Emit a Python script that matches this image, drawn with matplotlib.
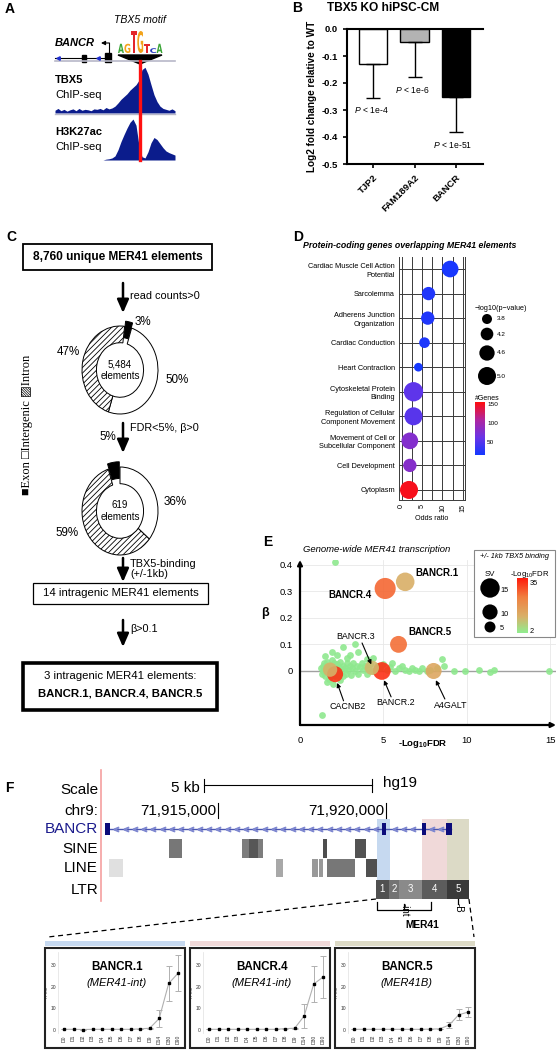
import numpy as np
import matplotlib
matplotlib.use('Agg')
import matplotlib.pyplot as plt
from matplotlib.patches import Rectangle, Polygon, PathPatch
from matplotlib.textpath import TextPath
from matplotlib.font_manager import FontProperties
from matplotlib.transforms import Affine2D
from matplotlib.colors import LinearSegmentedColormap, Normalize
from matplotlib.cm import ScalarMappable

W, H = 559, 1050

# ---------------- data ----------------
# A: motif logo + ChIP-seq signal (relative to peak)
motif_letters = ['A', 'G', 'T', 'G', 'T', 'C', 'A']
motif_heights = [0.42, 0.42, 1.0, 1.0, 0.4, 0.22, 0.42]
motif_colors = ['#3aa537', '#f2a31b', '#e3262b', '#f2a31b', '#e3262b', '#2a3fbf', '#3aa537']
tbx5_chip = [0.06, 0.10, 0.05, 0.08, 0.04, 0.07, 0.09, 0.05, 0.10, 0.06, 0.08, 0.07, 0.05, 0.09,
             0.08, 0.10, 0.07, 0.12, 0.09, 0.11, 0.15, 0.22, 0.30, 0.36, 0.42, 0.50, 0.56, 0.62,
             0.72, 0.95, 1.00, 0.85, 0.62, 0.40, 0.25, 0.15, 0.10, 0.08, 0.06, 0.09, 0.05]
h3k27ac_chip = [0, 0, 0, 0, 0, 0, 0, 0, 0, 0, 0, 0, 0, 0, 0, 0, 0, 0.02, 0.03, 0.05,
                0.10, 0.25, 0.45, 0.62, 0.78, 0.92, 1.00, 0.85, 0.35, 0.08, 0.05, 0.20, 0.42,
                0.55, 0.50, 0.40, 0.30, 0.22, 0.18, 0.15, 0.12]

# B: TBX5 KO
b_genes = ['TJP2', 'FAM189A2', 'BANCR']
b_lfc = [-0.13, -0.047, -0.25]
b_err = [0.125, 0.131, 0.132]
b_pvals = ['< 1e-4', '< 1e-6', '< 1e-51']
b_colors = ['white', '#b3b3b3', 'black']

# C: flow
donut_labels = ['Exon', 'Intergenic', 'Intron']
donut1_pct = [3, 50, 47]
donut1_n = '5,484'
donut2_pct = [5, 36, 59]
donut2_n = '619'
flow_steps = ['read counts>0', 'FDR<5%, β>0', 'TBX5-binding\n(+/-1kb)', 'β>0.1']

# D: enrichment
d_terms = ['Cardiac Muscle Cell Action\nPotential', 'Sarcolemma', 'Adherens Junction\nOrganization',
           'Cardiac Conduction', 'Heart Contraction', 'Cytoskeletal Protein\nBinding',
           'Regulation of Cellular\nComponent Movement', 'Movement of Cell or\nSubcellular Component',
           'Cell Development', 'Cytoplasm']
d_odds = [11.9, 6.6, 6.4, 5.6, 4.1, 2.9, 2.9, 2.0, 2.0, 1.8]
d_logp = [4.8, 4.3, 4.3, 3.9, 3.6, 5.2, 5.0, 4.8, 4.3, 5.0]
d_genes = [18, 22, 22, 20, 16, 55, 52, 78, 80, 150]

# E: genome-wide MER41
e_bg_x = [1.25, 1.3, 1.35, 1.4, 1.45, 1.5, 1.55, 1.6, 1.65, 1.7, 1.75, 1.8, 1.85, 1.9, 1.95,
          2.0, 2.05, 2.1, 2.15, 2.2, 2.3, 2.35, 2.4, 2.5, 2.55, 2.6, 2.7, 2.75, 2.8, 2.9,
          3.0, 3.05, 3.1, 3.2, 3.3, 3.4, 3.5, 3.6, 3.7, 3.8, 3.9, 4.0, 4.1, 4.2, 4.4, 4.6,
          4.8, 5.0, 5.2, 5.4, 5.5, 5.7, 5.9, 6.1, 6.3, 6.5, 6.7, 6.9, 7.1, 7.3, 7.6, 7.8,
          8.2, 8.6, 1.3, 2.1, 1.9, 2.8, 3.3, 3.5, 2.6, 3.0, 4.0, 4.4, 1.6, 2.0, 2.4, 8.5,
          9.2, 9.9, 10.7, 11.4, 11.6, 14.9, 1.5, 2.2]
e_bg_y = [0.01, -0.01, 0.02, 0.0, 0.03, -0.02, 0.01, 0.035, -0.005, 0.015, -0.03, 0.02, 0.0,
          0.04, -0.015, 0.01, 0.03, -0.02, 0.005, 0.025, -0.01, 0.015, 0.035, 0.0, -0.02, 0.02,
          0.01, -0.01, 0.03, 0.005, 0.02, -0.015, 0.01, 0.03, 0.0, 0.02, -0.01, 0.015, 0.03,
          0.005, 0.02, -0.01, 0.01, 0.025, 0.0, 0.02, 0.01, 0.025, 0.005, 0.015, 0.03, 0.0,
          0.01, 0.02, 0.005, 0.0, 0.01, 0.005, 0.0, 0.01, 0.0, 0.005, 0.01, 0.02, -0.165, 0.41,
          0.07, 0.05, 0.1, 0.07, 0.09, 0.06, 0.045, 0.05, -0.04, -0.05, -0.035, 0.045, 0.0, 0.0,
          0.005, -0.005, 0.005, 0.0, 0.055, 0.06]
e_hit_names = ['BANCR.1', 'BANCR.4', 'BANCR.5', 'BANCR.2', 'BANCR.3', 'A4GALT', 'CACNB2', '']
e_hit_x = [6.3, 5.1, 5.9, 4.9, 4.3, 8.0, 2.1, 1.8]
e_hit_y = [0.335, 0.31, 0.10, 0.0, 0.012, 0.0, -0.012, 0.005]
e_hit_sv = [14, 17, 12, 13, 9, 11, 11, 9]
e_hit_fdr = [12, 28, 27, 35, 10, 14, 35, 11]

# F: UCSC tracks (hg19, chr9)
f_xlim = (71911490, 71925150)
f_ticks = [71915000, 71920000]
f_scale = (71914583, 5000)
bancr_span = (71911697, 71921934)
bancr_exons = [(71911637, 71911786), (71919880, 71920000), (71921071, 71921190), (71921786, 71921964)]
sine = [(71913540, 71913930, '#707070'), (71915710, 71916340, '#767676'),
        (71915930, 71916190, '#555555'), (71918120, 71918245, '#444444'),
        (71919080, 71919400, '#4a4a4a')]
line_el = [(71911756, 71912173, '#e0e0e0'), (71916726, 71916934, '#a8a8a8'),
           (71917797, 71917976, '#999999'), (71918006, 71918125, '#999999'),
           (71918244, 71919077, '#777777'), (71919405, 71919732, '#505050')]
ltr = [(71919702, 71920089, '#505050', '1'), (71920089, 71920387, '#737373', '2'),
       (71920387, 71921071, '#8a8a8a', '3'), (71921071, 71921815, '#5c5c5c', '4'),
       (71921815, 71922470, '#3a3a3a', '5')]
highlights = [(71919732, 71920119, '#c6d9f0'), (71921071, 71921815, '#f0d9d9'),
              (71921815, 71922470, '#dcdac6')]

rna_days = ['D0', 'D1', 'D2', 'D3', 'D4', 'D5', 'D6', 'D7', 'D8', 'D9', 'D14', 'D30', 'D90']
rna_names = ['BANCR.1', 'BANCR.4', 'BANCR.5']
rna_types = ['(MER41-int)', '(MER41-int)', '(MER41B)']
rna_mean = [[0.3, 0.3, 0.2, 0.3, 0.3, 0.3, 0.3, 0.3, 0.5, 0.8, 5.3, 21.5, 26.3],
            [0.3, 0.3, 0.3, 0.3, 0.3, 0.3, 0.3, 0.3, 0.6, 0.8, 6.5, 21.2, 24.5],
            [0.3, 0.3, 0.3, 0.3, 0.3, 0.3, 0.3, 0.3, 0.4, 0.5, 2.3, 7.0, 8.3]]
rna_sd = [[0, 0, 0, 0, 0, 0, 0, 0, 0.1, 0.2, 4.0, 8.0, 8.3],
          [0, 0, 0, 0, 0, 0, 0, 0, 0.1, 0.2, 5.5, 8.3, 9.6],
          [0, 0, 0, 0, 0, 0, 0, 0, 0.1, 0.1, 1.3, 2.5, 2.3]]

# ---------------- figure ----------------
plt.rcParams['font.family'] = ['Liberation Sans', 'DejaVu Sans']
plt.rcParams['mathtext.fontset'] = 'custom'
plt.rcParams['mathtext.rm'] = 'Liberation Sans'
plt.rcParams['mathtext.it'] = 'Liberation Sans:italic'
plt.rcParams['mathtext.bf'] = 'Liberation Sans:bold'
plt.rcParams['hatch.linewidth'] = 0.6

fig = plt.figure(figsize=(W / 100, H / 100), dpi=100)


def px_axes(x0, y0, x1, y1, z=1):
    return fig.add_axes([x0 / W, 1 - y1 / H, (x1 - x0) / W, (y1 - y0) / H], zorder=z)


ov = px_axes(0, 0, W, H, z=10)
ov.set_xlim(0, W)
ov.set_ylim(H, 0)
ov.axis('off')

for lab, x, y in [('A', 5, 9), ('B', 292, 8), ('C', 6, 237), ('D', 293, 237), ('E', 263, 542), ('F', 5, 788)]:
    ov.text(x, y, lab, fontsize=10, weight='bold', va='center')

# ---- A ----
ov.text(140, 20, 'TBX5 motif', fontsize=7.6, style='italic', ha='center', va='center')
ov.text(55, 43, 'BANCR', fontsize=8, weight='bold', style='italic', va='center')
fp = FontProperties(family='DejaVu Sans', weight='bold')
cw = (163 - 118) / len(motif_letters)
for i, (ch, h, c) in enumerate(zip(motif_letters, motif_heights, motif_colors)):
    tp = TextPath((0, 0), ch, size=1, prop=fp)
    ext = tp.get_extents()
    tr = (Affine2D().translate(-ext.x0, -ext.y0)
          .scale(cw * 0.92 / ext.width, -h * 22 / ext.height).translate(118 + i * cw, 53))
    ov.add_patch(PathPatch(tr.transform_path(tp), color=c, lw=0))
ov.add_patch(Polygon([(118, 55), (162, 55), (140, 64)], closed=True, color='black'))
ov.plot([55, 175], [61, 61], color='#b8b8c8', lw=1.2)
ov.plot([55, 110], [58, 58], color='black', lw=0.8)
ov.add_patch(Rectangle((82, 54.5), 4, 7, color='black'))
ov.add_patch(Rectangle((105, 53), 6, 9, color='black'))
ov.plot([58, 98], [58, 58], ls='none', marker='<', ms=2.5, color='#2030d0')
ov.plot([109, 109], [53, 43], color='black', lw=0.8)
ov.annotate('', xy=(101, 43), xytext=(109.4, 43),
            arrowprops=dict(arrowstyle='-|>', lw=0.8, color='black', mutation_scale=6, shrinkA=0, shrinkB=0))

for arr, (y0, y1), name in [(tbx5_chip, (65, 113), 'TBX5'), (h3k27ac_chip, (117, 160), 'H3K27ac')]:
    a = px_axes(55, y0, 175, y1)
    xs = np.arange(len(arr))
    a.fill_between(xs, 0, arr, color='#0b1c8c', lw=0)
    a.set_xlim(0, len(arr) - 1)
    a.set_ylim(0, 1.05)
    a.axis('off')
    ov.text(55, y0 + 15, name, fontsize=8, weight='bold', va='center')
    ov.text(55, y0 + 30, 'ChIP-seq', fontsize=8, va='center')
ov.plot([55, 175], [113.5, 113.5], color='#b8b8c8', lw=1.0)
ov.plot([140, 140], [61, 160], color='#ff1010', lw=2.4)

# ---- B ----
ov.text(383, 8, 'TBX5 KO hiPSC-CM', fontsize=8.6, weight='bold', ha='center', va='center')
axb = px_axes(347, 29, 483, 164)
xb = np.arange(len(b_genes))
axb.bar(xb, b_lfc, width=0.68, color=b_colors, edgecolor='black', lw=1)
axb.errorbar(xb, b_lfc, yerr=[b_err, [0] * len(b_err)], fmt='none', ecolor='black',
             elinewidth=1, capsize=5, capthick=1)
axb.set_xlim(-0.63, 2.65)
axb.set_ylim(-0.5, 0)
yt = [-0.5, -0.4, -0.3, -0.2, -0.1, 0.0]
axb.set_yticks(yt, [f'{v:.1f}' for v in yt], fontsize=6.8, weight='bold')
axb.set_xticks(xb, b_genes, rotation=45, ha='right', rotation_mode='anchor', fontsize=6.8, weight='bold')
axb.tick_params(length=3, width=1.2)
for s in ['left', 'top', 'bottom']:
    axb.spines[s].set_linewidth(1.5)
axb.spines['right'].set_visible(False)
axb.set_ylabel('Log2 fold change relative to WT', fontsize=7.2, weight='bold', labelpad=3)
for xp, yp, p in zip([-0.46, 0.53, 1.44], [-0.30, -0.225, -0.43], b_pvals):
    axb.text(xp, yp, r'$\it{P}$' + ' ' + p, fontsize=6.2, va='center')

# ---- C ----
arrow_kw = dict(arrowstyle='-|>,head_width=0.35,head_length=0.8', lw=1.8, color='black',
                shrinkA=0, shrinkB=0, mutation_scale=10)
ov.add_patch(Rectangle((23, 244), 189, 26, fill=False, lw=1.3))
ov.text(117.5, 257, '8,760 unique MER41 elements', fontsize=8.6, weight='bold', ha='center', va='center')
for (y0, y1), (ty, step) in zip([(283, 313), (423, 453), (558, 582), (620, 647)],
                                [(296, flow_steps[0]), (428, flow_steps[1]), (569, flow_steps[2]),
                                 (629, flow_steps[3])]):
    ov.annotate('', xy=(123, y1), xytext=(123, y0), arrowprops=arrow_kw)
    ov.text(130, ty, step, fontsize=7.8, va='center', linespacing=1.1)
ov.add_patch(Rectangle((33, 583), 175, 21, fill=False, lw=0.9))
ov.text(120.5, 593.5, '14 intragenic MER41 elements', fontsize=8.2, ha='center', va='center')
ov.add_patch(Rectangle((23, 663), 194, 47, fill=False, lw=2.6))
ov.text(120, 676, '3 intragenic MER41 elements:', fontsize=8.2, ha='center', va='center')
ov.text(120, 694, 'BANCR.1, BANCR.4, BANCR.5', fontsize=8.2, weight='bold', ha='center', va='center')

for pct, n, cy, start in [(donut1_pct, donut1_n, 370, 83), (donut2_pct, donut2_n, 511, 108)]:
    ad = px_axes(120 - 47.5, cy - 55, 120 + 47.5, cy + 55)
    wedges, _ = ad.pie(pct, colors=['black', 'white', 'white'], startangle=start, counterclock=False,
                       explode=[0.12, 0, 0], wedgeprops=dict(width=0.38, edgecolor='black', linewidth=0.7))
    wedges[2].set_hatch('//////')
    ad.set_aspect('auto')
    ad.set_xlim(-1.25, 1.25)
    ad.set_ylim(-1.25, 1.25)
    ov.text(120, cy, f'{n}\nelements', fontsize=7, ha='center', va='center', linespacing=1.2)
for x, y, t in [(143, 322, donut1_pct[0]), (177, 380, donut1_pct[1]), (68, 352, donut1_pct[2]),
                (108, 437, donut2_pct[0]), (175, 502, donut2_pct[1]), (67, 533, donut2_pct[2])]:
    ov.text(x, y, f'{t}%', fontsize=8.4, ha='center', va='center')
ov.text(27, 425, '■' + donut_labels[0] + ' □' + donut_labels[1] + ' ▨' + donut_labels[2],
        rotation=90, fontsize=9, ha='center', va='center', family=['Liberation Serif', 'DejaVu Sans'])

# ---- D ----
ov.text(410, 245, 'Protein-coding genes overlapping MER41 elements', fontsize=6.3, weight='bold',
        style='italic', ha='center', va='center')
axd = px_axes(399, 257, 465, 500)
yd = np.arange(len(d_terms), 0, -1)
d_cmap = LinearSegmentedColormap.from_list('d', ['#1438ff', '#6a34e6', '#b0259f', '#ff0d0d'])
d_norm = Normalize(15, 155)


def d_size(v):
    r = (5 + (v - 3.8) * 3.33) * 0.72
    return (2 * r) ** 2


axd.scatter(d_odds, yd, s=[d_size(v) for v in d_logp], c=d_genes, cmap=d_cmap, norm=d_norm,
            zorder=3, lw=0)
axd.set_xlim(-0.66, 15.55)
axd.set_ylim(0.59, 10.49)
axd.set_xticks([0, 5, 10, 15], ['0', '5', '10', '15'], rotation=90, fontsize=5.2)
axd.set_xticks([2.5, 7.5, 12.5], minor=True)
axd.set_yticks(yd, d_terms, fontsize=5.3, linespacing=1.3)
axd.tick_params(which='both', length=0, pad=3)
axd.grid(True, which='both', color='#3a3a3a', lw=0.7)
axd.set_axisbelow(True)
for s in axd.spines.values():
    s.set_color('#3a3a3a')
    s.set_linewidth(0.7)
axd.spines['top'].set_visible(False)
axd.set_xlabel('Odds ratio', fontsize=5.2, labelpad=2)

ov.text(475, 308, '\u2212log10(p\u2212value)', fontsize=5.2, va='center')
d_leg = [3.8, 4.2, 4.6, 5.0]
ov.scatter([487] * 4, [319, 334, 353, 376], s=[d_size(v) for v in d_leg], c='black', lw=0)
for v, y in zip(d_leg, [319, 334, 353, 376]):
    ov.text(497, y, f'{v:.1f}', fontsize=4.6, va='center')
ov.text(475, 398, '#Genes', fontsize=5, va='center')
caxd = px_axes(475, 402, 485, 455, z=11)
cbd = fig.colorbar(ScalarMappable(d_norm, d_cmap), cax=caxd, ticks=[50, 100, 150])
cbd.outline.set_visible(False)
caxd.tick_params(labelsize=4.6, length=0, pad=1.5)

# ---- E ----
e_cmap = LinearSegmentedColormap.from_list('e', [(0, '#90ee90'), (0.3, '#d8b068'), (0.65, '#f08040'),
                                                 (1, '#ff1a0a')])
e_norm = Normalize(0, 38)


def e_size(sv):
    r = (3.4 + 0.42 * sv) * 0.72
    return (2 * r) ** 2


ov.text(377, 549, 'Genome-wide MER41 transcription', fontsize=6.8, style='italic', ha='center', va='center')
axe = px_axes(300, 560, 556, 725)
axe.set_xlim(0, 15.33)
axe.set_ylim(-0.203, 0.417)
axe.grid(True, color='#e8e8e8', lw=0.6)
axe.set_axisbelow(True)
axe.axhline(0, color='#a0a0a0', lw=1, zorder=1)
axe.scatter(e_bg_x, e_bg_y, s=e_size(0), color='#8ee88e', lw=0, alpha=0.9, zorder=2)
axe.scatter(e_hit_x, e_hit_y, s=[e_size(v) for v in e_hit_sv], c=e_hit_fdr, cmap=e_cmap, norm=e_norm,
            lw=0, alpha=0.9, zorder=3)
axe.set_xticks([0, 5, 10, 15])
axe.set_yticks([0, 0.1, 0.2, 0.3, 0.4], ['0', '0.1', '0.2', '0.3', '0.4'])
axe.tick_params(length=0, labelsize=6.8)
axe.tick_params(axis='x', pad=8)
axe.tick_params(axis='y', pad=5)
for s in axe.spines.values():
    s.set_visible(False)
ak = dict(arrowstyle='-|>', lw=1.6, color='black', mutation_scale=7, shrinkA=0, shrinkB=0)
axe.annotate('', xy=(1.0, 0), xytext=(0, 0), xycoords='axes fraction', arrowprops=ak)
axe.annotate('', xy=(0, 1.0), xytext=(0, 0), xycoords='axes fraction', arrowprops=ak)
axe.text(6.9, 0.368, e_hit_names[0], fontsize=7, weight='bold', va='center')
axe.text(1.68, 0.286, e_hit_names[1], fontsize=7, weight='bold', va='center')
axe.text(6.47, 0.147, e_hit_names[2], fontsize=7, weight='bold', va='center')
sk = dict(arrowstyle='-|>', lw=0.8, color='black', mutation_scale=6, shrinkA=1, shrinkB=1)
for name, tx, ty, px_, py_ in [(e_hit_names[4], 3.35, 0.128, 4.3, 0.02), (e_hit_names[3], 5.75, -0.12, 5.0, -0.03),
                               (e_hit_names[6], 2.87, -0.135, 2.2, -0.04), (e_hit_names[5], 9.04, -0.128, 8.1, -0.03)]:
    off = 0.018 if ty > 0 else -0.018
    axe.text(tx, ty, name, fontsize=6.4, ha='center', va='center')
    axe.annotate('', xy=(px_, py_), xytext=(tx + (px_ - tx) * 0.35, ty - off), arrowprops=sk)
ov.text(265, 613, 'β', fontsize=9, weight='bold', ha='center', va='center')
ov.text(423, 744, r'-Log$_{\mathbf{10}}$FDR', fontsize=6.8, weight='bold', ha='center', va='center')

ov.add_patch(Rectangle((474, 550), 81, 87, fc='white', ec='#888888', lw=0.8))
ov.text(514.5, 557, '+/- 1kb TBX5 binding', fontsize=5.3, style='italic', ha='center', va='center')
ov.text(490, 575, 'SV', fontsize=5.6, ha='center', va='center')
ov.text(530, 575, r'-Log$_{10}$FDR', fontsize=5.6, ha='center', va='center')
e_leg = [15, 10, 5]
ov.scatter([490] * 3, [588, 612, 627], s=[e_size(v) for v in e_leg], c='black', lw=0)
for v, y in zip(e_leg, [590, 614, 628]):
    ov.text(500, y, str(v), fontsize=5.3, va='center')
caxe = px_axes(517, 578, 528, 633, z=11)
cbe = fig.colorbar(ScalarMappable(e_norm, e_cmap), cax=caxe, ticks=[2, 35])
cbe.outline.set_visible(False)
caxe.tick_params(labelsize=5.3, length=0, pad=1.5)

# ---- F ----
def g2px(g):
    return 100 + (g - f_xlim[0]) / (f_xlim[1] - f_xlim[0]) * (W - 100)


axf = px_axes(100, 775, W, 930)
axf.set_xlim(*f_xlim)
axf.set_ylim(930, 775)
axf.axis('off')
for s0, s1, c in highlights:
    axf.add_patch(Rectangle((s0, 819), s1 - s0, 61, color=c, lw=0, zorder=0))
sb0, sbl = f_scale
axf.plot([sb0, sb0 + sbl], [785, 785], color='black', lw=0.8)
for xx in [sb0, sb0 + sbl]:
    axf.plot([xx, xx], [779, 792], color='black', lw=0.8)
axf.text(sb0 - 120, 788, '5 kb', fontsize=11, ha='right', va='center')
axf.text(sb0 + sbl + 330, 783, 'hg19', fontsize=11, ha='left', va='center')
for t in f_ticks:
    axf.plot([t, t], [803, 818], color='black', lw=0.8)
    axf.text(t - 60, 811, f'{t:,}', fontsize=11, ha='right', va='center')
axf.plot(bancr_span, [829, 829], color='#4a55b0', lw=1.0, zorder=2)
chev = [g for g in np.arange(bancr_span[0] + 280, bancr_span[1] - 100, 276)
        if not any(e0 - 120 < g < e1 + 120 for e0, e1 in bancr_exons)]
axf.plot(chev, [829] * len(chev), ls='none', marker=r'$<$', ms=3.2, color='#7f88d0', zorder=2)
for e0, e1 in bancr_exons:
    axf.add_patch(Rectangle((e0, 823), e1 - e0, 12, color='#0c0c7a', lw=0, zorder=3))
for s0, s1, c in sine:
    axf.add_patch(Rectangle((s0, 839), s1 - s0, 19, color=c, lw=0, alpha=0.95))
for s0, s1, c in line_el:
    axf.add_patch(Rectangle((s0, 859), s1 - s0, 18, color=c, lw=0))
for s0, s1, c, lab in ltr:
    axf.add_patch(Rectangle((s0, 880), s1 - s0, 19, color=c, lw=0))
    axf.text((s0 + s1) / 2, 889.5, lab, fontsize=7, color='white', ha='center', va='center')
# MER41 brackets
b0, b1 = ltr[0][0] + 30, 71921340
axf.plot([b0, b0, b1, b1], [902, 910, 910, 902], color='black', lw=0.9)
axf.plot([(b0 + b1) / 2] * 2, [904, 910], color='black', lw=0.9)
axf.text((b0 + b1) / 2 + 20, 903, '-int', fontsize=7, rotation=-90, ha='center', va='top')
axf.plot([(ltr[4][0] + ltr[4][1]) / 2] * 2, [899, 904], color='black', lw=0.9)
axf.text((ltr[4][0] + ltr[4][1]) / 2 + 20, 903, '-B', fontsize=7, rotation=-90, ha='center', va='top')
axf.text(b1 - 250, 925, 'MER41', fontsize=7.4, weight='bold', ha='center', va='center')

ov.plot([101, 101], [770, 901], color='#f5a0a0', lw=1.2)
for lab, y, c in [('Scale', 790, 'black'), ('chr9:', 811, 'black'), ('BANCR', 829, '#1a1a8c'),
                  ('SINE', 849, 'black'), ('LINE', 868, 'black'), ('LTR', 890, 'black')]:
    ov.text(98, y, lab, fontsize=11, color=c, ha='right', va='center')
ov.plot([g2px(ltr[0][0]), 48], [899, 937], color='black', lw=0.9, ls=(0, (4, 3)))
ov.plot([g2px(ltr[4][1]), 474], [899, 937], color='black', lw=0.9, ls=(0, (4, 3)))

xd = np.arange(len(rna_days))
for k, bx in enumerate([45, 190, 335]):
    ov.add_patch(Rectangle((bx, 941), 140, 5, color=highlights[k][2], lw=0))
    ov.add_patch(Rectangle((bx, 948), 140, 100, fill=False, lw=1.5, ec='#222222'))
    ar = px_axes(bx + 13, 952, bx + 138, 1033)
    ar.errorbar(xd, rna_mean[k], yerr=rna_sd[k], color='#b0b0b0', lw=0.8, ecolor='#b0b0b0',
                elinewidth=0.7, capsize=2, capthick=0.7, marker='s', ms=1.6, mfc='black', mec='black')
    ar.set_xlim(-0.63, 12.5)
    ar.set_ylim(-1.4, 36)
    ar.set_yticks([0, 10, 20, 30])
    ar.set_xticks(xd, rna_days, rotation=90)
    ar.tick_params(labelsize=3.6, length=0, pad=1.5, labelcolor='#333333')
    for s in ['top', 'right', 'bottom']:
        ar.spines[s].set_visible(False)
    ar.spines['left'].set_color('#e0e0e0')
    ar.spines['left'].set_linewidth(0.5)
    ar.set_ylabel('RPKM', fontsize=3, labelpad=1, color='#333333')
    ar.text(0.47, 0.815, rna_names[k], transform=ar.transAxes, fontsize=8.4, weight='bold',
            ha='center', va='center')
    ar.text(0.47, 0.62, rna_types[k], transform=ar.transAxes, fontsize=8, style='italic',
            ha='center', va='center')

fig.savefig('out.png', dpi=100)
